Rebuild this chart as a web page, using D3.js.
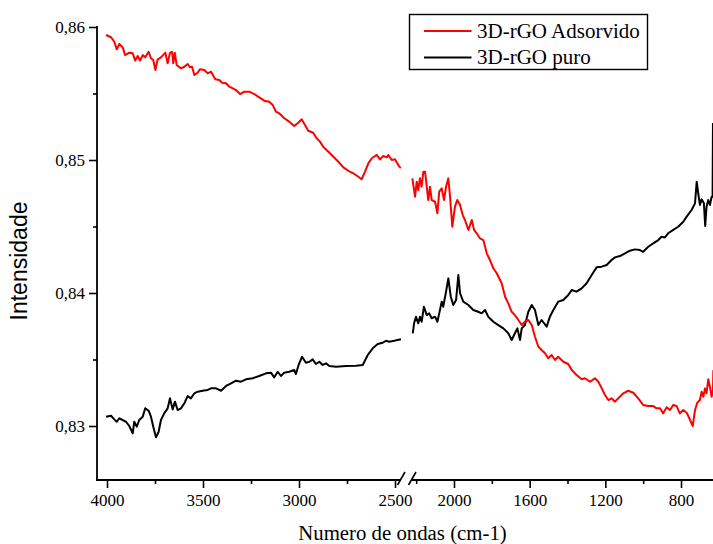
<!DOCTYPE html>
<html><head><meta charset="utf-8">
<script src="https://cdn.jsdelivr.net/npm/d3@7"></script>
<style>body{margin:0;background:#fff}svg{display:block}</style>
</head><body><svg id="c" width="713" height="544"></svg>
<script>
// ---- data (wavenumber cm-1, intensity) ----
const seriesNames = ["3D-rGO Adsorvido", "3D-rGO puro"];
const seriesColors = ["#ff0000", "#000000"];

const redWn1 = [4005,3979,3962,3949,3936,3918,3906,3884,3866,3853,3840,3828,3814,3801,3783,3771,3759,3748,3736,3719,3696,3684,3672,3661,3655,3647,3637,3615,3597,3580,3568,3557,3545,3528,3516,3493,3476,3458,3436,3415,3401,3380,3363,3345,3328,3307,3285,3259,3233,3207,3181,3155,3137,3120,3103,3077,3051,3025,3004,2986,2969,2952,2926,2908,2891,2874,2847,2821,2795,2769,2743,2717,2691,2674,2656,2639,2621,2595,2578,2561,2543,2535,2517,2500,2483,2470];
const redI1 = [0.85940,0.85923,0.85889,0.85832,0.85872,0.85847,0.85789,0.85807,0.85802,0.85747,0.85782,0.85747,0.85789,0.85772,0.85814,0.85765,0.85752,0.85677,0.85757,0.85772,0.85807,0.85727,0.85807,0.85812,0.85727,0.85807,0.85714,0.85689,0.85701,0.85722,0.85697,0.85701,0.85639,0.85656,0.85682,0.85677,0.85652,0.85664,0.85607,0.85601,0.85581,0.85577,0.85551,0.85539,0.85526,0.85496,0.85514,0.85514,0.85496,0.85471,0.85446,0.85438,0.85414,0.85363,0.85351,0.85314,0.85288,0.85256,0.85280,0.85306,0.85263,0.85220,0.85205,0.85163,0.85138,0.85100,0.85062,0.85025,0.84987,0.84945,0.84919,0.84900,0.84874,0.84855,0.84912,0.84975,0.85013,0.85038,0.85005,0.85030,0.85020,0.85038,0.85000,0.85005,0.84962,0.84938];

const redWn2 = [2220,2215,2206,2197,2189,2180,2171,2162,2153,2144,2136,2127,2118,2100,2088,2078,2065,2053,2042,2030,2021,2009,1995,1983,1968,1954,1942,1924,1906,1894,1880,1863,1845,1827,1810,1792,1774,1748,1730,1713,1695,1678,1660,1642,1625,1607,1589,1572,1554,1537,1519,1502,1484,1466,1449,1422,1396,1378,1352,1325,1308,1281,1255,1237,1219,1202,1184,1167,1149,1132,1105,1079,1052,1026,1000,973,947,929,911,894,876,858,841,823,806,788,770,752,738,726,714,700,691,682,673,665,656,647,638,631,629];
const redI2 = [0.84862,0.84812,0.84724,0.84837,0.84774,0.84862,0.84799,0.84912,0.84912,0.84799,0.84699,0.84799,0.84699,0.84686,0.84599,0.84762,0.84787,0.84699,0.84799,0.84862,0.84724,0.84498,0.84649,0.84699,0.84662,0.84586,0.84549,0.84474,0.84549,0.84474,0.84449,0.84411,0.84398,0.84298,0.84248,0.84186,0.84148,0.84073,0.83972,0.83922,0.83859,0.83834,0.83797,0.83759,0.83784,0.83797,0.83759,0.83671,0.83596,0.83571,0.83547,0.83509,0.83534,0.83496,0.83521,0.83483,0.83466,0.83421,0.83383,0.83351,0.83359,0.83333,0.83359,0.83333,0.83283,0.83233,0.83195,0.83208,0.83183,0.83208,0.83246,0.83265,0.83250,0.83208,0.83158,0.83150,0.83150,0.83133,0.83133,0.83095,0.83140,0.83120,0.83158,0.83150,0.83095,0.83120,0.83100,0.83045,0.83000,0.83120,0.83175,0.83195,0.83258,0.83220,0.83283,0.83246,0.83351,0.83295,0.83220,0.83270,0.83420];

const blackWn1 = [4005,3979,3962,3949,3936,3918,3901,3884,3866,3858,3845,3832,3814,3801,3783,3771,3759,3745,3731,3719,3702,3684,3672,3658,3646,3632,3615,3597,3580,3563,3545,3528,3502,3476,3458,3432,3406,3380,3354,3328,3302,3276,3241,3207,3172,3146,3129,3111,3094,3077,3051,3025,3016,3002,2984,2964,2946,2929,2912,2894,2877,2859,2842,2807,2755,2703,2668,2642,2616,2590,2564,2547,2530,2504,2469];
const blackI1 = [0.83070,0.83077,0.83050,0.83032,0.83058,0.83045,0.83032,0.83000,0.82945,0.83032,0.82995,0.83045,0.83070,0.83133,0.83115,0.83070,0.82995,0.82915,0.82957,0.83045,0.83095,0.83133,0.83208,0.83125,0.83183,0.83120,0.83133,0.83171,0.83225,0.83208,0.83246,0.83258,0.83265,0.83271,0.83283,0.83283,0.83265,0.83301,0.83321,0.83341,0.83333,0.83351,0.83359,0.83376,0.83396,0.83401,0.83366,0.83408,0.83376,0.83401,0.83408,0.83421,0.83391,0.83459,0.83521,0.83476,0.83483,0.83501,0.83466,0.83483,0.83459,0.83471,0.83451,0.83446,0.83451,0.83453,0.83459,0.83534,0.83584,0.83616,0.83626,0.83641,0.83634,0.83641,0.83652];

const blackWn2 = [2218,2211,2201,2189,2180,2171,2159,2144,2131,2118,2100,2088,2078,2065,2057,2042,2030,2017,2004,1989,1977,1968,1951,1924,1898,1872,1854,1836,1819,1792,1766,1739,1713,1695,1678,1665,1651,1642,1625,1607,1589,1572,1554,1537,1510,1493,1475,1449,1422,1396,1378,1352,1325,1299,1272,1246,1219,1193,1167,1149,1123,1096,1070,1044,1017,1000,973,947,920,903,885,868,841,815,788,770,744,726,717,709,700,691,679,672,665,656,647,638,633,631];
const blackI2 = [0.83697,0.83772,0.83822,0.83772,0.83822,0.83784,0.83897,0.83834,0.83847,0.83810,0.83822,0.83784,0.83847,0.83935,0.83897,0.84010,0.84110,0.83972,0.83910,0.83947,0.84135,0.83998,0.83935,0.83910,0.83872,0.83859,0.83847,0.83872,0.83822,0.83784,0.83759,0.83734,0.83697,0.83647,0.83697,0.83734,0.83647,0.83734,0.83759,0.83859,0.83910,0.83872,0.83759,0.83797,0.83747,0.83822,0.83872,0.83935,0.83947,0.83985,0.84022,0.84010,0.84035,0.84073,0.84135,0.84193,0.84198,0.84210,0.84248,0.84268,0.84278,0.84298,0.84318,0.84328,0.84323,0.84310,0.84348,0.84373,0.84398,0.84423,0.84418,0.84449,0.84474,0.84498,0.84536,0.84574,0.84624,0.84674,0.84837,0.84750,0.84662,0.84704,0.84674,0.84504,0.84649,0.84699,0.84662,0.84724,0.84724,0.85278];

const xTicks1 = [4000, 3500, 3000, 2500];
const xMinor1 = [3750, 3250, 2750];
const xTicks2 = [2000, 1600, 1200, 800];
const xMinor2 = [2200, 1800, 1400, 1000];
const yTicks = [0.83, 0.84, 0.85, 0.86];
const yMinor = [0.835, 0.845, 0.855];

// ---- chart ----
const svg = d3.select("#c");
const x1 = d3.scaleLinear().domain([4000, 2500]).range([107, 395]);
const x2 = d3.scaleLinear().domain([2000, 800]).range([454, 681]);
const y = d3.scaleLinear().domain([0.83, 0.86]).range([426, 27]);
const axisY = 480;
const serif = "'Liberation Serif','Times New Roman',serif";

function zipPts(w, v) { const n = Math.min(w.length, v.length); return d3.range(n).map(i => [w[i], v[i]]); }

const plots = [
  {x: x1, pts: zipPts(redWn1, redI1), c: seriesColors[0]},
  {x: x2, pts: zipPts(redWn2, redI2), c: seriesColors[0]},
  {x: x1, pts: zipPts(blackWn1, blackI1), c: seriesColors[1]},
  {x: x2, pts: zipPts(blackWn2, blackI2), c: seriesColors[1]},
];
[2, 3, 0, 1].forEach(k => {
  const p = plots[k];
  svg.append("path").datum(p.pts)
    .attr("fill", "none").attr("stroke", p.c).attr("stroke-width", 2)
    .attr("stroke-linejoin", "round")
    .attr("d", d3.line().x(d => p.x(d[0])).y(d => y(d[1])));
});

// Y axis
const gy = svg.append("g").attr("transform", "translate(97,0)");
gy.call(d3.axisLeft(y).tickValues(yTicks).tickSize(8).tickPadding(4)
  .tickFormat(d => d3.format(".2f")(d).replace(".", ",")));
gy.append("g").call(d3.axisLeft(y).tickValues(yMinor).tickSize(4).tickFormat(""));
gy.selectAll(".domain").remove();
gy.selectAll("line").attr("stroke", "#000").attr("stroke-width", 1.6);
gy.selectAll("text").attr("font-family", serif).attr("font-size", 17).attr("fill", "#000");
svg.append("line").attr("x1", 97).attr("x2", 97).attr("y1", 26).attr("y2", axisY + 0.8)
  .attr("stroke", "#000").attr("stroke-width", 1.8);

// X axes
function xAxis(scale, majors, minors) {
  const g = svg.append("g").attr("transform", `translate(0,${axisY})`);
  g.call(d3.axisBottom(scale).tickValues(majors).tickSize(8).tickPadding(6).tickFormat(d3.format("d")));
  g.append("g").call(d3.axisBottom(scale).tickValues(minors).tickSize(4).tickFormat(""));
  g.selectAll(".domain").remove();
  g.selectAll("line").attr("stroke", "#000").attr("stroke-width", 1.6);
  g.selectAll("text").attr("font-family", serif).attr("font-size", 17).attr("fill", "#000");
}
xAxis(x1, xTicks1, xMinor1);
xAxis(x2, xTicks2, xMinor2);
svg.append("line").attr("x1", 96.1).attr("x2", 401).attr("y1", axisY).attr("y2", axisY)
  .attr("stroke", "#000").attr("stroke-width", 1.8);
svg.append("line").attr("x1", 412).attr("x2", 713).attr("y1", axisY).attr("y2", axisY)
  .attr("stroke", "#000").attr("stroke-width", 1.8);
// break marks
[401, 412].forEach(cx => {
  svg.append("line").attr("x1", cx - 3.5).attr("y1", axisY + 5).attr("x2", cx + 4).attr("y2", axisY - 8)
    .attr("stroke", "#000").attr("stroke-width", 1.6);
});

// Axis titles
svg.append("text").attr("x", 402.5).attr("y", 539.5).attr("text-anchor", "middle")
  .attr("font-family", serif).attr("font-size", 20.8).attr("fill", "#000")
  .text("Numero de ondas (cm-1)");
svg.append("text").attr("transform", "translate(27,261) rotate(-90)").attr("text-anchor", "middle")
  .attr("font-family", "'Liberation Sans',Arial,sans-serif").attr("font-size", 23).attr("fill", "#000")
  .text("Intensidade");

// Legend
const lg = svg.append("g");
lg.append("rect").attr("x", 409.5).attr("y", 14.5).attr("width", 238).attr("height", 55)
  .attr("fill", "#fff").attr("stroke", "#000").attr("stroke-width", 1.4);
seriesNames.forEach((name, i) => {
  const yy = 31 + i * 26.5;
  lg.append("line").attr("x1", 424).attr("x2", 471.5).attr("y1", yy).attr("y2", yy)
    .attr("stroke", seriesColors[i]).attr("stroke-width", 2);
  lg.append("text").attr("x", 477).attr("y", yy + 6.8).attr("font-family", serif)
    .attr("font-size", 21).attr("fill", "#000").text(name);
});
</script>
</body></html>
